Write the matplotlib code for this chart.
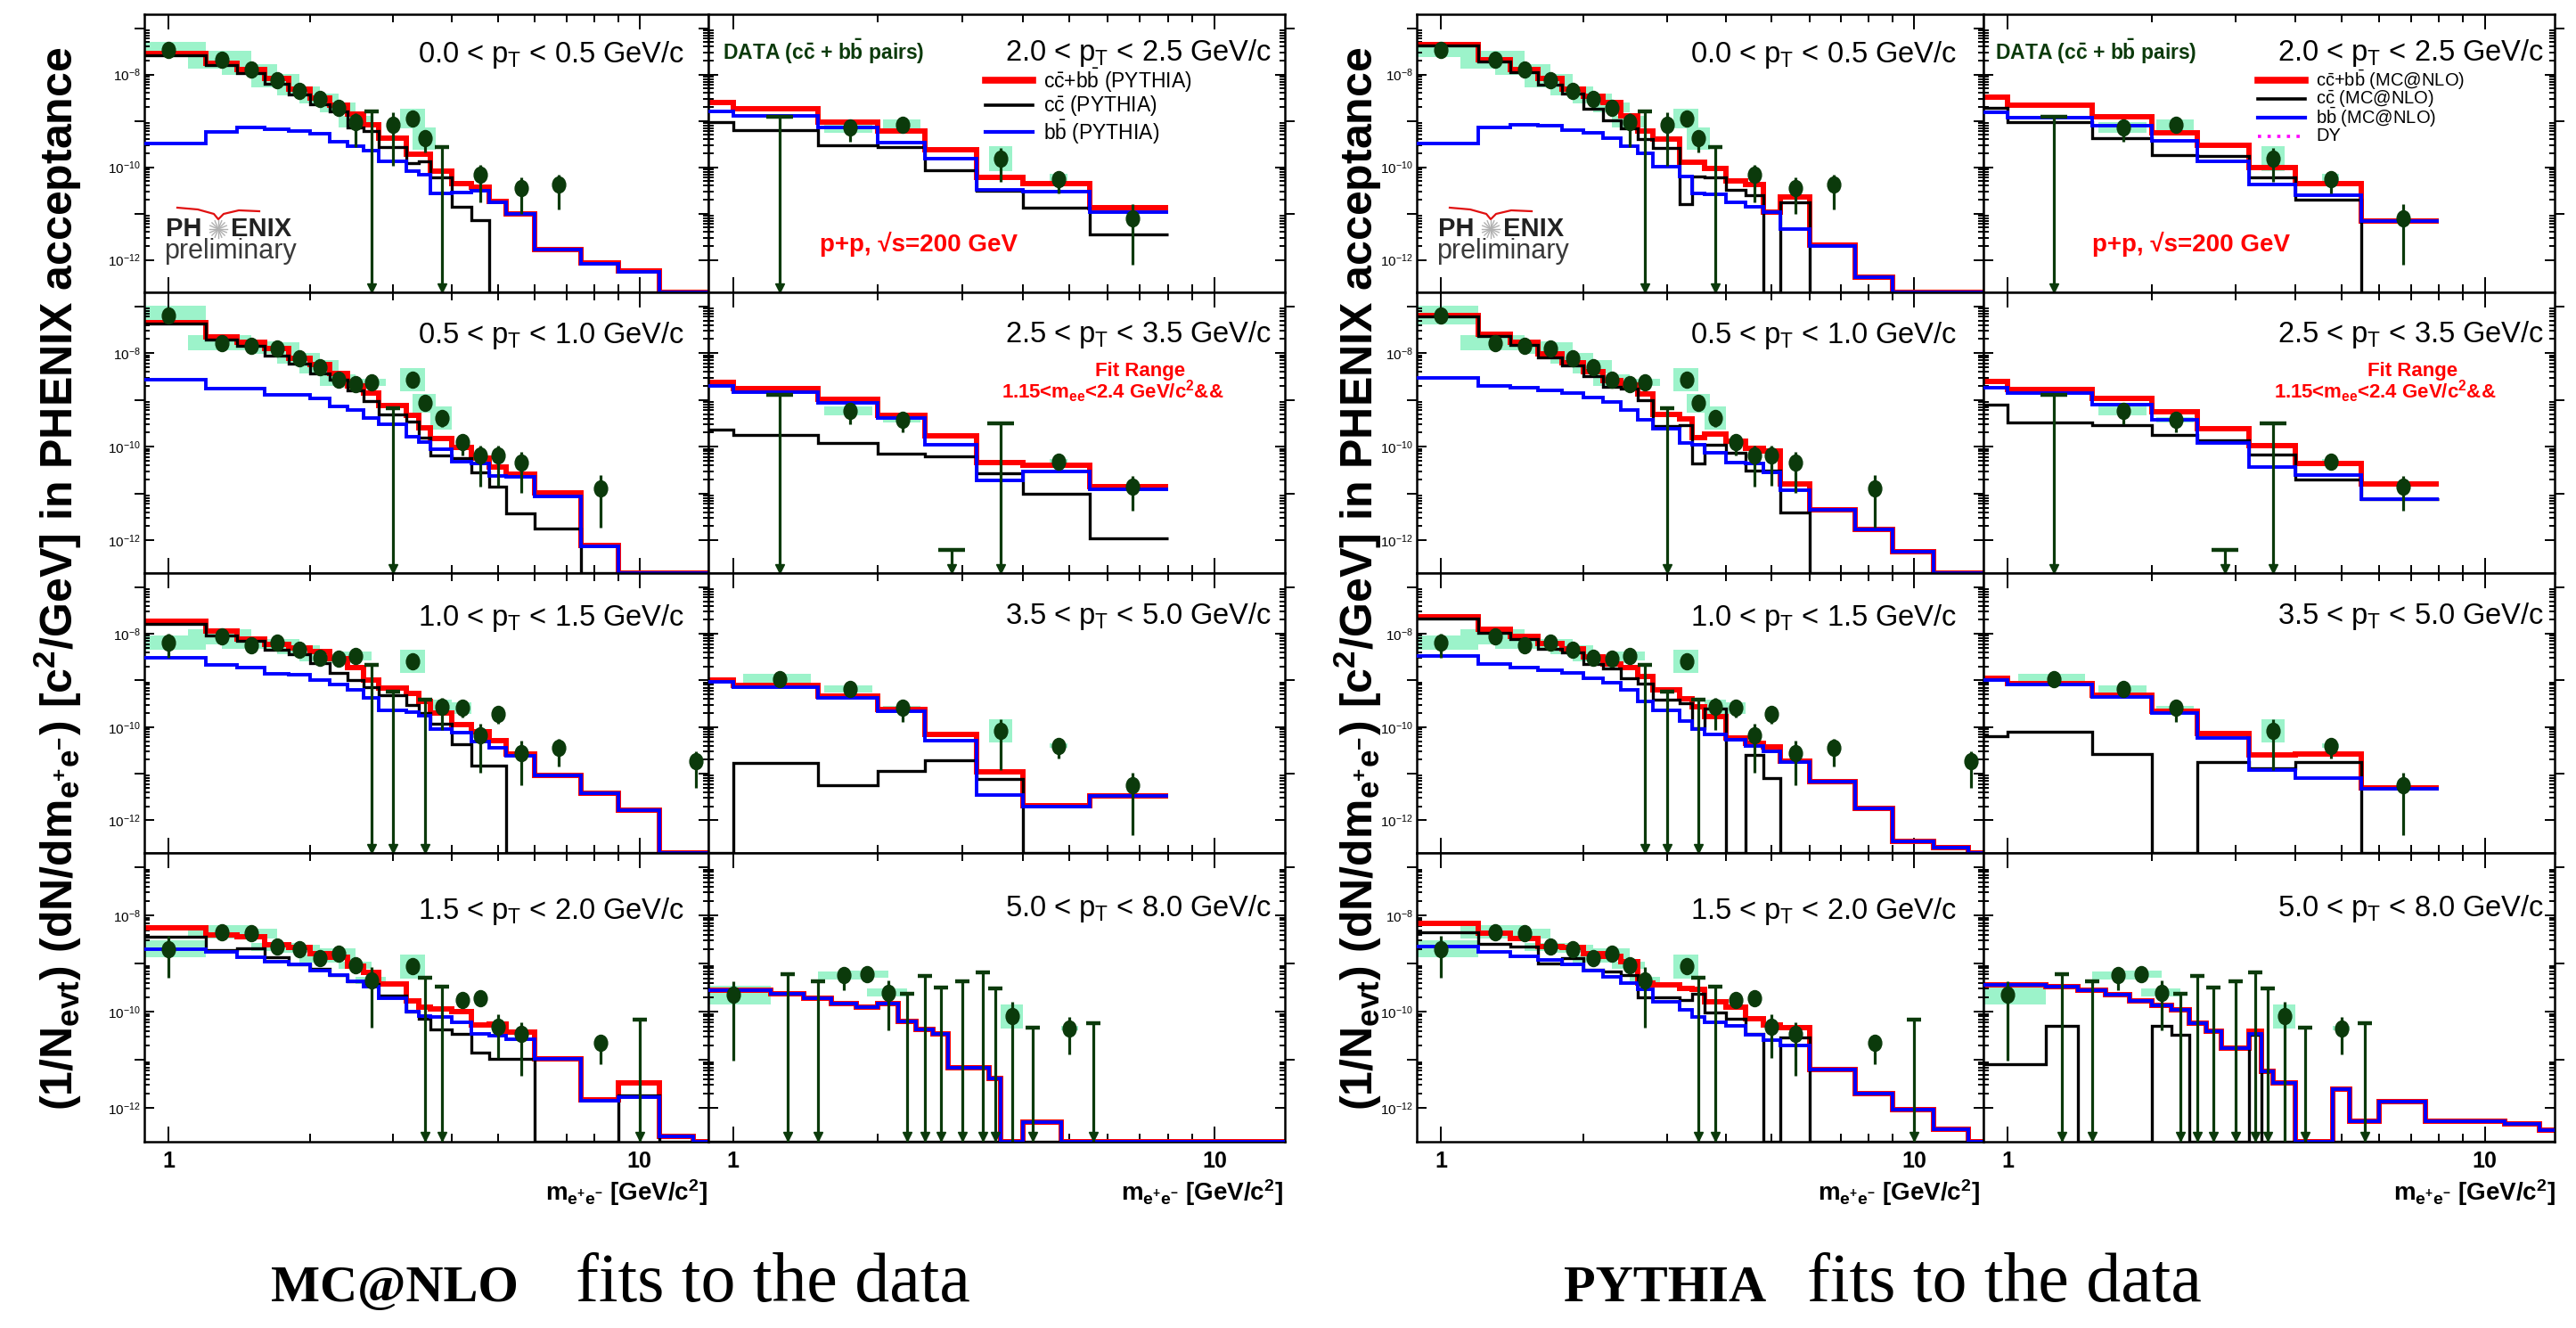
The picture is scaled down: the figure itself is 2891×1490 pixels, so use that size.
import numpy as np
import matplotlib
matplotlib.use("Agg")
import matplotlib.pyplot as plt
from matplotlib.path import Path
from matplotlib.patches import Rectangle
from matplotlib.lines import Line2D
from matplotlib.ticker import FixedLocator, NullFormatter, FuncFormatter
import matplotlib.transforms as mtransforms

plt.rcParams['font.family'] = ['Liberation Sans', 'DejaVu Sans']
plt.rcParams['mathtext.fontset'] = 'custom'
plt.rcParams['mathtext.rm'] = 'Liberation Sans'
plt.rcParams['mathtext.it'] = 'Liberation Sans:italic'
plt.rcParams['mathtext.bf'] = 'Liberation Sans:bold'

W, H, DPI = 2891, 1490, 100

# ---------------------------------------------------------------- bins
FINE = [0.8, 1.2, 1.4, 1.6, 1.8, 2.0, 2.2, 2.4, 2.6, 2.8, 3.2, 3.4, 3.6, 4.0,
        4.4, 4.8, 5.2, 6.0, 7.5, 9.0, 11.0, 13.0, 15.0]
COARSE = [0.8, 1.0, 1.5, 2.0, 2.5, 3.2, 4.0, 5.5, 8.0]

PT_LABELS = ['0.0 < p$_\\mathregular{T}$ < 0.5 GeV/c', '0.5 < p$_\\mathregular{T}$ < 1.0 GeV/c',
             '1.0 < p$_\\mathregular{T}$ < 1.5 GeV/c', '1.5 < p$_\\mathregular{T}$ < 2.0 GeV/c',
             '2.0 < p$_\\mathregular{T}$ < 2.5 GeV/c', '2.5 < p$_\\mathregular{T}$ < 3.5 GeV/c',
             '3.5 < p$_\\mathregular{T}$ < 5.0 GeV/c', '5.0 < p$_\\mathregular{T}$ < 8.0 GeV/c']

# ---------------------------------------------------------------- data (log10 of yield; None = empty)
# data points: x [GeV/c2], log10 y, stat err up/down (dex), syst box half height (dex)
A_x   = [1.0, 1.3, 1.5, 1.7, 1.9, 2.1, 2.3, 2.5, 3.0, 3.3, 3.5, 4.6, 5.6, 6.75]
A_lg  = [-7.46, -7.68, -7.89, -8.13, -8.35, -8.52, -8.71, -9.02, -9.09, -8.95, -9.38, -10.16, -10.44, -10.38]
A_up  = [0.03, 0.03, 0.03, 0.03, 0.03, 0.04, 0.04, 0.19, 0.27, 0.06, 0.18, 0.22, 0.22, 0.22]
A_dn  = [0.03, 0.03, 0.03, 0.03, 0.04, 0.04, 0.05, 0.54, 0.88, 0.08, 0.30, 0.60, 0.57, 0.54]
A_sys = [0.16, 0.19, 0.11, 0.15, 0.10, 0.10, 0.10, 0.12, 0.0, 0.22, 0.24, 0.0, 0.0, 0.0]
A_limx = [2.7, 3.8]
A_limlg = [-8.79, -9.56]

B_x   = [1.0, 1.3, 1.5, 1.7, 1.9, 2.1, 2.3, 2.5, 2.7, 3.3, 3.5, 3.8, 4.2, 4.6, 5.0, 5.6, 8.25]
B_lg  = [-7.19, -7.78, -7.84, -7.89, -8.11, -8.29, -8.57, -8.67, -8.62, -8.56, -9.07, -9.38, -9.89, -10.19, -10.19, -10.34, -10.88]
B_up  = [0.03, 0.03, 0.03, 0.03, 0.03, 0.04, 0.04, 0.05, 0.05, 0.06, 0.10, 0.12, 0.15, 0.22, 0.22, 0.24, 0.27]
B_dn  = [0.03, 0.03, 0.03, 0.03, 0.03, 0.04, 0.05, 0.06, 0.06, 0.08, 0.15, 0.20, 0.30, 0.67, 0.64, 0.65, 0.84]
B_sys = [0.20, 0.16, 0.10, 0.12, 0.12, 0.15, 0.12, 0.06, 0.08, 0.25, 0.20, 0.25, 0.0, 0.0, 0.0, 0.0, 0.0]
B_limx = [3.0]
B_limlg = [-9.17]

C_x   = [1.0, 1.3, 1.5, 1.7, 1.9, 2.1, 2.3, 2.5, 3.3, 3.8, 4.2, 4.6, 5.0, 5.6, 6.75, 13.2]
C_lg  = [-8.19, -8.06, -8.24, -8.19, -8.34, -8.51, -8.54, -8.48, -8.59, -9.57, -9.59, -10.17, -9.72, -10.55, -10.45, -10.74]
C_up  = [0.19, 0.03, 0.03, 0.03, 0.03, 0.04, 0.04, 0.05, 0.06, 0.20, 0.12, 0.25, 0.12, 0.25, 0.19, 0.22]
C_dn  = [0.32, 0.03, 0.03, 0.03, 0.04, 0.05, 0.06, 0.06, 0.08, 0.50, 0.20, 0.80, 0.20, 0.70, 0.40, 0.57]
C_sys = [0.16, 0.16, 0.08, 0.08, 0.10, 0.08, 0.08, 0.10, 0.25, 0.15, 0.12, 0.0, 0.0, 0.0, 0.0, 0.10]
C_limx = [2.7, 3.0, 3.5]
C_limlg = [-8.67, -9.24, -9.41]

D_x   = [1.0, 1.3, 1.5, 1.7, 1.9, 2.1, 2.3, 2.5, 2.7, 3.3, 4.2, 4.6, 5.0, 5.6, 8.25]
D_lg  = [-8.69, -8.34, -8.37, -8.65, -8.69, -8.89, -8.80, -9.03, -9.35, -9.06, -9.75, -9.71, -10.31, -10.46, -10.65]
D_up  = [0.26, 0.04, 0.04, 0.04, 0.05, 0.06, 0.05, 0.08, 0.28, 0.08, 0.10, 0.08, 0.25, 0.25, 0.18]
D_dn  = [0.60, 0.05, 0.05, 0.06, 0.08, 0.10, 0.08, 0.12, 0.98, 0.10, 0.15, 0.12, 0.65, 0.86, 0.43]
D_sys = [0.17, 0.14, 0.10, 0.08, 0.08, 0.08, 0.12, 0.08, 0.08, 0.25, 0.0, 0.0, 0.0, 0.0, 0.0]
D_limx = [3.5, 3.8, 10.0]
D_limlg = [-9.29, -9.48, -10.17]

E_x   = [1.75, 2.25, 3.6, 4.75, 6.75]
E_lg  = [-9.14, -9.08, -9.81, -10.25, -11.11]
E_up  = [0.16, 0.10, 0.22, 0.17, 0.31]
E_dn  = [0.30, 0.10, 0.50, 0.32, 1.00]
E_sys = [0.12, 0.12, 0.27, 0.10, 0.0]
E_limx = [1.25]
E_limlg = [-8.92]

F_x   = [1.75, 2.25, 4.75, 6.75]
F_lg  = [-9.23, -9.42, -10.31, -10.85]
F_up  = [0.16, 0.16, 0.10, 0.22]
F_dn  = [0.29, 0.26, 0.15, 0.51]
F_sys = [0.10, 0.06, 0.05, 0.0]
F_limx = [1.25, 2.85, 3.6]
F_limlg = [-8.88, -12.20, -9.50]

G_x   = [1.25, 1.75, 2.25, 3.6, 4.75, 6.75]
G_lg  = [-8.97, -9.18, -9.59, -10.08, -10.40, -11.24]
G_up  = [0.05, 0.05, 0.15, 0.25, 0.17, 0.27]
G_dn  = [0.05, 0.05, 0.30, 0.84, 0.27, 1.08]
G_sys = [0.12, 0.07, 0.05, 0.25, 0.05, 0.0]
G_limx = []
G_limlg = []

H_x   = [1.0, 1.7, 1.9, 2.1, 3.8, 5.0]
H_lg  = [-9.65, -9.24, -9.22, -9.60, -10.09, -10.34]
H_up  = [0.28, 0.17, 0.10, 0.25, 0.29, 0.23]
H_dn  = [1.37, 0.31, 0.15, 0.78, 3.00, 0.55]
H_sys = [0.19, 0.08, 0.08, 0.08, 0.25, 0.05]
H_limx = [1.3, 1.5, 2.3, 2.5, 2.7, 3.0, 3.3, 3.5, 4.2, 5.6]
H_limlg = [-9.21, -9.37, -9.63, -9.26, -9.49, -9.37, -9.18, -9.52, -10.32, -10.24]

# ---------------------------------------------------------------- PYTHIA templates (left figure)
PY_A_sum = [-7.54, -7.76, -7.89, -8.08, -8.32, -8.51, -8.67, -8.86, -9.08, -9.37, -9.71, -9.71, -10.08, -10.36, -10.43, -10.74, -11.00, -11.78, -12.06, -12.24, None, None]
PY_A_cc  = [-7.58, -7.80, -7.97, -8.20, -8.43, -8.64, -8.79, -9.14, -9.21, -9.56, -9.91, -9.87, -10.22, -10.86, -11.14, None, None, None, None, None, None, None]
PY_A_bb  = [-9.49, -9.24, -9.14, -9.18, -9.22, -9.28, -9.45, -9.54, -9.65, -9.87, -10.08, -10.17, -10.57, -10.54, -10.51, -10.76, -11.00, -11.78, -12.08, -12.25, None, None]

PY_B_sum = [-7.35, -7.65, -7.76, -7.90, -8.10, -8.24, -8.44, -8.70, -8.86, -9.11, -9.33, -9.59, -9.83, -10.02, -10.25, -10.44, -10.59, -10.98, -12.11, None, None, None]
PY_B_cc  = [-7.37, -7.71, -7.84, -8.05, -8.22, -8.43, -8.57, -8.79, -9.02, -9.30, -9.47, -9.81, -10.19, -10.25, -10.54, -10.86, -11.43, -11.75, None, None, None, None]
PY_B_bb  = [-8.57, -8.76, -8.76, -8.88, -8.89, -8.97, -9.13, -9.21, -9.38, -9.52, -9.79, -9.90, -10.06, -10.32, -10.35, -10.63, -10.65, -11.06, -12.13, None, None, None]

PY_C_sum = [-7.73, -7.94, -8.11, -8.22, -8.30, -8.38, -8.54, -8.73, -8.99, -9.17, -9.27, -9.46, -9.69, -9.94, -10.10, -10.29, -10.58, -11.03, -11.41, -11.78, None, None]
PY_C_cc  = [-7.79, -8.04, -8.16, -8.34, -8.43, -8.62, -8.83, -8.99, -9.15, -9.31, -9.53, -9.69, -9.93, -10.36, -10.83, -10.83, None, None, None, None, None, None]
PY_C_bb  = [-8.51, -8.67, -8.73, -8.85, -8.87, -9.00, -9.08, -9.21, -9.38, -9.64, -9.68, -9.75, -10.04, -10.12, -10.31, -10.44, -10.61, -11.03, -11.41, -11.78, None, None]

PY_D_sum = [-8.25, -8.40, -8.44, -8.60, -8.66, -8.80, -8.86, -9.05, -9.18, -9.42, -9.78, -9.91, -9.94, -10.00, -10.28, -10.25, -10.43, -10.98, -11.82, -11.48, -12.58, None]
PY_D_cc  = [-8.44, -8.71, -8.68, -8.86, -9.02, -9.11, -9.23, -9.37, -9.42, -9.66, -10.00, -10.15, -10.37, -10.46, -10.84, -10.98, -10.98, None, None, -11.74, None, None]
PY_D_bb  = [-8.69, -8.75, -8.86, -8.95, -9.02, -9.14, -9.23, -9.37, -9.48, -9.71, -10.00, -10.09, -10.10, -10.22, -10.45, -10.49, -10.57, -10.98, -11.85, -11.77, -12.58, None]

PY_E_sum = [-8.60, -8.73, -9.02, -9.21, -9.62, -10.21, -10.36, -10.87]
PY_E_cc  = [-9.02, -9.19, -9.52, -9.56, -10.06, -10.51, -10.87, -11.45]
PY_E_bb  = [-8.79, -8.89, -9.14, -9.46, -9.81, -10.48, -10.53, -10.97]

PY_F_sum = [-8.62, -8.75, -8.99, -9.32, -9.77, -10.33, -10.39, -10.85]
PY_F_cc  = [-9.64, -9.74, -9.91, -10.15, -10.20, -10.57, -11.01, -11.95]
PY_F_bb  = [-8.69, -8.83, -9.06, -9.39, -9.96, -10.71, -10.52, -10.90]

PY_G_sum = [-9.00, -9.10, -9.33, -9.62, -10.16, -10.96, -11.69, -11.47]
PY_G_cc  = [None, -10.77, -11.24, -10.94, -10.72, -11.12, None, None]
PY_G_bb  = [-9.03, -9.14, -9.37, -9.67, -10.29, -11.45, -11.71, -11.47]

PY_H_sum = [-9.55, -9.63, -9.71, -9.83, -9.91, -9.83, -10.20, -10.36, -10.45, -11.17, -11.17, -11.39, None, -12.30, -12.30, None, None, None, None, None, None, None]
PY_H_cc  = [None] * 22
PY_H_bb  = [-9.55, -9.63, -9.71, -9.83, -9.91, -9.83, -10.20, -10.36, -10.45, -11.17, -11.17, -11.39, None, -12.30, -12.30, None, None, None, None, None, None, None]

# ---------------------------------------------------------------- MC@NLO templates (right figure)
MC_A_sum = [-7.35, -7.68, -7.89, -8.08, -8.32, -8.46, -8.60, -8.89, -9.21, -9.40, -9.90, -9.89, -10.03, -10.29, -10.38, -10.97, -10.65, -11.68, -12.38, None, None, None]
MC_A_cc  = [-7.37, -7.71, -7.94, -8.22, -8.41, -8.73, -8.98, -9.17, -9.40, -9.59, -10.79, -10.19, -10.22, -10.48, -10.60, None, -10.76, None, None, None, None, None]
MC_A_bb  = [-9.49, -9.14, -9.08, -9.11, -9.19, -9.26, -9.38, -9.54, -9.70, -9.98, -10.19, -10.57, -10.59, -10.76, -10.86, -10.97, -11.33, -11.70, -12.38, None, None, None]

MC_B_sum = [-7.20, -7.59, -7.77, -8.02, -8.21, -8.39, -8.58, -8.68, -8.87, -9.30, -9.40, -9.81, -9.73, -9.88, -10.04, -10.08, -10.80, -11.35, -11.77, -12.24, None, None]
MC_B_cc  = [-7.22, -7.63, -7.82, -8.08, -8.26, -8.48, -8.72, -8.75, -9.01, -9.56, -9.53, -10.35, -9.96, -10.13, -10.51, -10.51, -11.40, None, None, None, None, None]
MC_B_bb  = [-8.52, -8.70, -8.73, -8.79, -8.85, -8.95, -9.04, -9.22, -9.42, -9.61, -9.92, -9.96, -10.13, -10.33, -10.35, -10.54, -10.93, -11.35, -11.77, -12.24, None, None]

MC_C_sum = [-7.63, -7.90, -8.05, -8.21, -8.33, -8.50, -8.64, -8.72, -8.91, -9.20, -9.40, -9.57, -9.77, -10.23, -10.35, -10.43, -10.74, -11.17, -11.75, -12.45, -12.59, None]
MC_C_cc  = [-7.67, -7.98, -8.11, -8.33, -8.40, -8.64, -8.75, -8.95, -9.07, -9.42, -9.48, -10.02, -9.61, None, -10.60, -11.09, None, None, None, None, None, None]
MC_C_bb  = [-8.48, -8.64, -8.72, -8.78, -8.83, -8.95, -9.04, -9.20, -9.46, -9.65, -9.88, -10.04, -10.16, -10.27, -10.41, -10.52, -10.75, -11.17, -11.75, -12.45, -12.59, None]

MC_D_sum = [-8.17, -8.37, -8.48, -8.64, -8.67, -8.79, -8.85, -8.96, -9.41, -9.44, -9.52, -9.53, -9.79, -9.91, -10.15, -10.28, -10.32, -11.19, -11.70, -12.03, -12.44, None]
MC_D_cc  = [-8.35, -8.59, -8.65, -8.99, -8.88, -9.13, -9.16, -9.23, -9.69, -9.70, -9.75, -9.62, -10.02, -10.14, -10.46, None, -10.53, None, None, None, None, None]
MC_D_bb  = [-8.65, -8.76, -8.85, -8.93, -9.02, -9.15, -9.27, -9.41, -9.54, -9.79, -9.95, -10.10, -10.21, -10.30, -10.47, -10.58, -10.70, -11.19, -11.70, -12.03, -12.44, None]

MC_E_sum = [-8.48, -8.67, -8.92, -9.26, -9.52, -10.00, -10.36, -11.17]
MC_E_cc  = [-8.71, -9.02, -9.37, -9.73, -9.75, -10.21, -10.70, None]
MC_E_bb  = [-8.81, -8.93, -9.11, -9.43, -9.87, -10.38, -10.60, -11.17]

MC_F_sum = [-8.60, -8.78, -8.96, -9.26, -9.61, -9.98, -10.35, -10.80]
MC_F_cc  = [-9.09, -9.48, -9.53, -9.75, -9.87, -10.16, -10.70, -11.11]
MC_F_bb  = [-8.73, -8.86, -9.09, -9.42, -9.92, -10.43, -10.60, -11.11]

MC_G_sum = [-8.96, -9.07, -9.32, -9.67, -10.13, -10.60, -10.58, -11.30]
MC_G_cc  = [-10.19, -10.10, -10.58, None, -10.75, -10.88, -10.75, None]
MC_G_bb  = [-8.99, -9.09, -9.35, -9.69, -10.23, -10.93, -11.09, -11.33]

MC_H_sum = [-9.44, -9.47, -9.56, -9.65, -9.77, -9.87, -9.95, -10.24, -10.41, -10.75, -10.40, -11.23, -11.48, None, None, -11.60, -12.28, -11.86, -12.28, -12.28, -12.32, -12.46]
MC_H_cc  = [-11.09, -10.30, None, None, None, -10.30, -10.47, None, None, None, -10.47, None, None, None, None, None, None, None, None, None, None, None]
MC_H_bb  = [-9.44, -9.47, -9.56, -9.65, -9.77, -9.87, -9.95, -10.24, -10.41, -10.75, -10.46, -11.23, -11.48, None, None, -11.60, -12.28, -11.86, -12.28, -12.28, -12.32, -12.46]

# ---------------------------------------------------------------- styling
XMIN, XMAX = 0.889, 14.0
YMIN, YMAX = 2.0e-13, 2.0e-7
RED, BLUE, BLACK = '#ff0000', '#0000ff', '#000000'
DG = '#0b3a0b'
BOX = '#9cf3ca'

circ = Path.unit_circle()
ELL = Path(circ.vertices * np.array([0.82, 1.0]), circ.codes)

DATA = {
    'A': (A_x, A_lg, A_up, A_dn, A_sys, A_limx, A_limlg),
    'B': (B_x, B_lg, B_up, B_dn, B_sys, B_limx, B_limlg),
    'C': (C_x, C_lg, C_up, C_dn, C_sys, C_limx, C_limlg),
    'D': (D_x, D_lg, D_up, D_dn, D_sys, D_limx, D_limlg),
    'E': (E_x, E_lg, E_up, E_dn, E_sys, E_limx, E_limlg),
    'F': (F_x, F_lg, F_up, F_dn, F_sys, F_limx, F_limlg),
    'G': (G_x, G_lg, G_up, G_dn, G_sys, G_limx, G_limlg),
    'H': (H_x, H_lg, H_up, H_dn, H_sys, H_limx, H_limlg),
}
EDGES = {'A': FINE, 'B': FINE, 'C': FINE, 'D': FINE,
         'E': COARSE, 'F': COARSE, 'G': COARSE, 'H': FINE}
MODELS = {
    'PY': {'A': (PY_A_sum, PY_A_cc, PY_A_bb), 'B': (PY_B_sum, PY_B_cc, PY_B_bb),
           'C': (PY_C_sum, PY_C_cc, PY_C_bb), 'D': (PY_D_sum, PY_D_cc, PY_D_bb),
           'E': (PY_E_sum, PY_E_cc, PY_E_bb), 'F': (PY_F_sum, PY_F_cc, PY_F_bb),
           'G': (PY_G_sum, PY_G_cc, PY_G_bb), 'H': (PY_H_sum, PY_H_cc, PY_H_bb)},
    'MC': {'A': (MC_A_sum, MC_A_cc, MC_A_bb), 'B': (MC_B_sum, MC_B_cc, MC_B_bb),
           'C': (MC_C_sum, MC_C_cc, MC_C_bb), 'D': (MC_D_sum, MC_D_cc, MC_D_bb),
           'E': (MC_E_sum, MC_E_cc, MC_E_bb), 'F': (MC_F_sum, MC_F_cc, MC_F_bb),
           'G': (MC_G_sum, MC_G_cc, MC_G_bb), 'H': (MC_H_sum, MC_H_cc, MC_H_bb)},
}
ORDER = [['A', 'E'], ['B', 'F'], ['C', 'G'], ['D', 'H']]


def lin(vals):
    return np.array([YMIN if v is None else max(10.0 ** v, YMIN) for v in vals])


fig = plt.figure(figsize=(W / DPI, H / DPI), dpi=DPI)


def ftext(px, py, s, **kw):
    return fig.text(px / W, 1 - py / H, s, **kw)


def fline(xs, ys, **kw):
    fig.add_artist(Line2D([x / W for x in xs], [1 - y / H for y in ys],
                          transform=fig.transFigure, **kw))


ROWS = [(16, 328), (328, 643), (643, 957), (957, 1281)]
LABELLED = [1e-12, 1e-10, 1e-8]
ALL_DECADES = [1e-12, 1e-11, 1e-10, 1e-9, 1e-8, 1e-7]


def draw_panel(ax, key, model, coarse, row, col):
    edges = EDGES[key]
    s, c, b = MODELS[model][key]
    ax.stairs(lin(s), edges, color=RED, lw=4.3, baseline=None, zorder=2)
    ax.stairs(lin(c), edges, color=BLACK, lw=2.4, baseline=None, zorder=3)
    ax.stairs(lin(b), edges, color=BLUE, lw=2.8, baseline=None, zorder=4)

    x, lg, up, dn, sy, lx, llg = DATA[key]
    x = np.array(x); y = 10.0 ** np.array(lg)
    up = np.array(up); dn = np.array(dn); sy = np.array(sy)
    for xi, yi, si in zip(x, y, sy):
        if si > 0:
            ax.add_patch(Rectangle((xi - 0.2, yi * 10 ** -si), 0.4,
                                   yi * (10 ** si - 10 ** -si),
                                   facecolor=BOX, edgecolor='none', zorder=1))
    lo = y - y * 10.0 ** (-dn)
    hi = y * 10.0 ** up - y
    ax.errorbar(x, y, yerr=[lo, hi], fmt='none', ecolor=DG, elinewidth=2.3,
                capsize=0, zorder=5)
    ax.plot(x, y, ls='none', marker=ELL, ms=13, color=DG, zorder=6)
    if len(lx):
        lx = np.array(lx); ly = 10.0 ** np.array(llg)
        ax.vlines(lx, YMIN, ly, colors=DG, lw=2.3, zorder=5)
        ax.plot(lx, ly, ls='none', marker='_', ms=22 if coarse else 11,
                mew=3.2, color=DG, zorder=5)
        tr = mtransforms.blended_transform_factory(ax.transData, ax.transAxes)
        ax.plot(lx, [0.017] * len(lx), ls='none', marker='v', ms=6.5,
                color=DG, transform=tr, zorder=5, clip_on=False)

    ax.set_xscale('log'); ax.set_yscale('log')
    ax.set_xlim(XMIN, XMAX); ax.set_ylim(YMIN, YMAX)
    ax.xaxis.set_minor_locator(FixedLocator([2, 3, 4, 5, 6, 7, 8, 9]))
    ax.xaxis.set_minor_formatter(NullFormatter())
    if row == 3:
        ax.set_xticks([1, 10], ['1', '10'], fontsize=18, fontweight='bold')
    else:
        ax.xaxis.set_major_locator(FixedLocator([1, 10]))
        ax.xaxis.set_major_formatter(NullFormatter())
        ax.tick_params(axis='x', labelbottom=False)
    # decades: even ones labelled (major), odd ones drawn as long marks below
    ax.yaxis.set_major_locator(FixedLocator(LABELLED))
    minors = [d * m for d in ALL_DECADES for m in range(2, 10)]
    ax.yaxis.set_minor_locator(FixedLocator([v for v in minors if YMIN < v < YMAX]))
    ax.yaxis.set_minor_formatter(NullFormatter())
    if col == 0:
        ax.yaxis.set_major_formatter(FuncFormatter(
            lambda v, p: r'$\mathregular{10^{%d}}$' % int(round(np.log10(v)))))
    else:
        ax.yaxis.set_major_formatter(NullFormatter())
        ax.tick_params(axis='y', labelleft=False)
    ax.tick_params(which='both', direction='in', top=True, right=True, width=1.4)
    ax.tick_params(axis='x', which='major', length=12, pad=7)
    ax.tick_params(axis='x', which='minor', length=6.5)
    ax.tick_params(axis='y', which='major', length=8, labelsize=11, pad=3)
    ax.tick_params(axis='y', which='minor', length=4)
    for d in (1e-11, 1e-9, 1e-7):
        for xa in (0.0, 1.0):
            ax.plot([xa], [d], marker=0 if xa == 0.0 else 1, ms=8, mew=1.4,
                    color='black', transform=mtransforms.blended_transform_factory(
                        ax.transAxes, ax.transData), clip_on=False, zorder=7)
    for sp in ax.spines.values():
        sp.set_linewidth(1.8)


def draw_figure(off, cols, model, legend_labels, caption_bold, cap_bold_x, cap_x, ylab_x):
    for r, (y0, y1) in enumerate(ROWS):
        for ci, (x0, x1) in enumerate(cols):
            ax = fig.add_axes([x0 / W, 1 - y1 / H, (x1 - x0) / W, (y1 - y0) / H])
            key = ORDER[r][ci]
            draw_panel(ax, key, model, key in ('E', 'F', 'G'), r, ci)
    # pT labels
    bl_left = [70, 385, 702, 1031]
    bl_right = [68, 384, 700, 1028]
    for r in range(4):
        ftext(768 + off, bl_left[r], PT_LABELS[r], fontsize=23.5, ha='right', va='baseline')
        ftext(1427 + off, bl_right[r], PT_LABELS[4 + r], fontsize=23.5, ha='right', va='baseline')
    # axis titles
    ftext(ylab_x, 649,
          r'(1/N$_{\mathbf{evt}}$) (dN/dm$_{\mathbf{e^{+}e^{-}}}$) [c$^{\mathbf{2}}$/GeV] in PHENIX acceptance',
          rotation=90, ha='center', va='center', fontsize=36, fontweight='bold')
    for xr in (794 + off, 1440 + off):
        ftext(xr, 1347, r'm$_{\mathbf{e^{+}e^{-}}}$ [GeV/c$^{\mathbf{2}}$]',
              ha='right', va='baseline', fontsize=20, fontweight='bold')
    # annotations
    ftext(811 + off, 67, r'DATA (c$\mathbf{\bar{c}}$ + b$\mathbf{\bar{b}}$ pairs)',
          color=DG, fontsize=16.5, fontweight='bold', va='baseline')
    ftext(1031 + off, 282, 'p+p, \u221as=200 GeV', color=RED, fontsize=20,
          fontweight='bold', ha='center', va='baseline')
    ftext(1280 + off, 422, 'Fit Range', color=RED, fontsize=16, fontweight='bold',
          ha='center', va='baseline')
    ftext(1249 + off, 447, r'1.15<m$_{\mathbf{ee}}$<2.4 GeV/c$^{\mathbf{2}}$&&', color=RED,
          fontsize=16, fontweight='bold', ha='center', va='baseline')
    # legend
    if len(legend_labels) == 3:
        ys, fs = [90, 118, 148], 16.5
    else:
        ys, fs = [90, 111, 132, 153], 14.5
    styles = [dict(color=RED, lw=5.5), dict(color=BLACK, lw=2.6), dict(color=BLUE, lw=3.0),
              dict(color='#ff00ff', lw=2.6, ls=(0, (1, 2)))]
    for i, lab in enumerate(legend_labels):
        fline([1106 + off, 1159 + off], [ys[i], ys[i]], **styles[i])
        ftext(1171 + off, ys[i], lab, fontsize=fs, va='center')
    # PHENIX logo
    fline([199 + off, 222 + off, 240 + off, 245 + off, 251 + off, 268 + off, 291 + off],
          [233, 235, 240, 246, 240, 236, 237], color='#e01010', lw=1.6)
    ftext(186 + off, 265, 'PH', fontsize=21, fontweight='bold', va='baseline', color='#222222')
    ftext(259 + off, 265, 'ENIX', fontsize=21, fontweight='bold', va='baseline', color='#222222')
    for ang in np.arange(0, np.pi, np.pi / 8):
        dx, dy = 10 * np.cos(ang), 10 * np.sin(ang)
        fline([245 + off - dx, 245 + off + dx], [257 - dy, 257 + dy], color='#b0b0b0', lw=1.0)
    ftext(184 + off, 290, 'preliminary', fontsize=22, va='baseline', color='#3a3a3a')
    # caption
    ftext(cap_bold_x, 1460, caption_bold, family='Liberation Serif', fontweight='bold',
          fontsize=42, va='baseline')
    ftext(cap_x, 1460, 'fits to the data', family='Liberation Serif', fontsize=56,
          va='baseline')


OFF = 1428
draw_figure(0, [(162, 795), (795, 1442)], 'PY',
            [r'c$\mathrm{\bar{c}}$+b$\mathrm{\bar{b}}$ (PYTHIA)',
             r'c$\mathrm{\bar{c}}$ (PYTHIA)', r'b$\mathrm{\bar{b}}$ (PYTHIA)'],
            'MC@NLO', 304, 646, 65)
draw_figure(OFF, [(1590, 2226), (2226, 2867)], 'MC',
            [r'c$\mathrm{\bar{c}}$+b$\mathrm{\bar{b}}$ (MC@NLO)',
             r'c$\mathrm{\bar{c}}$ (MC@NLO)', r'b$\mathrm{\bar{b}}$ (MC@NLO)', 'DY'],
            'PYTHIA', 1755, 2028, 1524)

fig.savefig('out.png', dpi=DPI, facecolor='white')
